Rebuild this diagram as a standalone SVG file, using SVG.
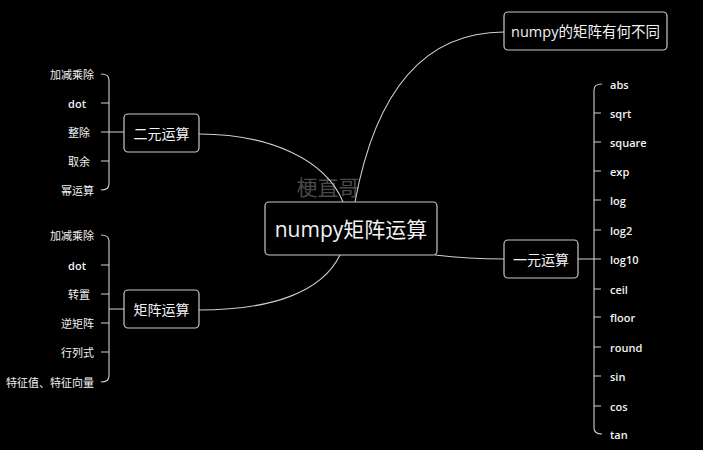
<svg xmlns="http://www.w3.org/2000/svg" width="703" height="450" viewBox="0 0 703 450">
<style>
.bg{fill:#000}
.box{fill:#000;stroke:#c8c8c8;stroke-width:1.2}
.ln{fill:none;stroke:#cfcfcf;stroke-width:1.1}
text{font-family:"Open Sans","Noto Sans CJK SC",sans-serif;fill:#f2f2f2;dominant-baseline:central}
.lbl{font-size:11px}
.en{font-weight:600}
.l{text-anchor:end}
.r{text-anchor:start}
.c{text-anchor:middle}
.wm{font-size:21px;fill:#4a4a4a;font-family:"Noto Sans CJK SC",sans-serif}
</style>
<rect class="bg" x="0" y="0" width="703" height="450"/>
<text class="wm c" x="328" y="186">梗直哥</text>
<g id="connectors">
<path class="ln" d="M199,134 C270,134 326,160 343,202"/>
<path class="ln" d="M199,310 C272,310 322,292 340,255"/>
<path class="ln" d="M355,202 C372,110 412,32 504,32"/>
<path class="ln" d="M435,255 C460,258 480,259 504,259"/>
<path class="ln" d="M101,74 Q109,74 109,80 V184 Q109,190 101,190 M101,103 H109 M101,132 H124 M101,161 H109"/>
<path class="ln" d="M101,235 Q109,235 109,241 V376 Q109,382 101,382 M101,265 H109 M101,294 H109 M101,323 H109 M101,352 H109 M109,309 H124"/>
<path class="ln" d="M602,84 Q594,84 594,90 V428 Q594,434 602,434 M594,113 H601 M594,142 H601 M594,171 H601 M594,200 H601 M594,230 H601 M578,259 H601 M594,289 H601 M594,317 H601 M594,347 H601 M594,376 H601 M594,406 H601"/>
</g>
<g id="root">
<rect class="box" x="265" y="202" width="172" height="53" rx="4"/>
<text class="c" x="351" y="229" font-size="21">numpy矩阵运算</text>
</g>
<g id="n-diff">
<rect class="box" x="504" y="12" width="163" height="38" rx="4"/>
<text class="c" x="585.5" y="31" font-size="14.5">numpy的矩阵有何不同</text>
</g>
<g id="n-unary">
<rect class="box" x="504" y="240" width="74" height="38" rx="4"/>
<text class="c" x="541" y="259" font-size="14">一元运算</text>
</g>
<g id="n-binary">
<rect class="box" x="124" y="114" width="75" height="38" rx="4"/>
<text class="c" x="161.5" y="133" font-size="14">二元运算</text>
</g>
<g id="n-matrix">
<rect class="box" x="124" y="290" width="75" height="38" rx="4"/>
<text class="c" x="161.5" y="309" font-size="14">矩阵运算</text>
</g>
<g id="binary-items">
<text class="lbl l" x="94" y="74">加减乘除</text>
<text class="lbl en l" x="86" y="103">dot</text>
<text class="lbl l" x="90" y="132">整除</text>
<text class="lbl l" x="90" y="161">取余</text>
<text class="lbl l" x="94" y="190">幂运算</text>
</g>
<g id="matrix-items">
<text class="lbl l" x="94" y="235">加减乘除</text>
<text class="lbl en l" x="86" y="265">dot</text>
<text class="lbl l" x="90" y="294">转置</text>
<text class="lbl l" x="94" y="323">逆矩阵</text>
<text class="lbl l" x="94" y="352">行列式</text>
<text class="lbl l" x="94" y="382">特征值、特征向量</text>
</g>
<g id="unary-items">
<text class="lbl en r" x="610" y="84">abs</text>
<text class="lbl en r" x="610" y="113">sqrt</text>
<text class="lbl en r" x="610" y="142">square</text>
<text class="lbl en r" x="610" y="171">exp</text>
<text class="lbl en r" x="610" y="200">log</text>
<text class="lbl en r" x="610" y="230">log2</text>
<text class="lbl en r" x="610" y="259">log10</text>
<text class="lbl en r" x="610" y="289">ceil</text>
<text class="lbl en r" x="610" y="317">floor</text>
<text class="lbl en r" x="610" y="347">round</text>
<text class="lbl en r" x="610" y="376">sin</text>
<text class="lbl en r" x="610" y="406">cos</text>
<text class="lbl en r" x="610" y="434">tan</text>
</g>
</svg>
